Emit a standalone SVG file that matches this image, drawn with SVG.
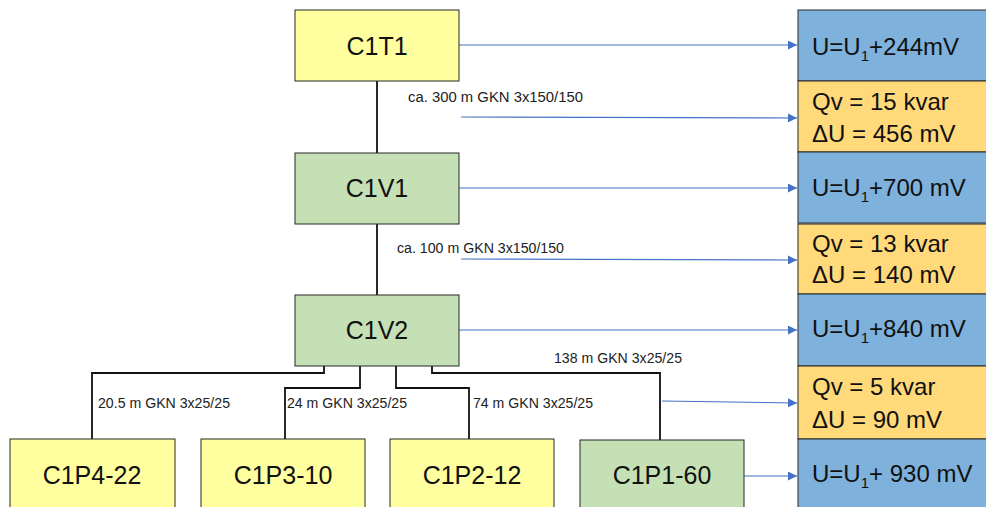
<svg xmlns="http://www.w3.org/2000/svg" width="986" height="507" viewBox="0 0 986 507">
<style>
.node{stroke:#262626;stroke-width:1}
.y{fill:#FFFF9F}
.g{fill:#C5E0B4}
.b{fill:#7EB2DD}
.o{fill:#FFD97A}
.big{font-family:"Liberation Sans",Arial,sans-serif;font-size:25px;fill:#111}
.mid{font-family:"Liberation Sans",Arial,sans-serif;font-size:24px;fill:#111}
.lbl{font-family:"Liberation Sans",Arial,sans-serif;font-size:14px;fill:#222}
.wire{fill:none;stroke:#111;stroke-width:1.8}
.arr{fill:none;stroke:#4472C4;stroke-width:1.2;marker-end:url(#ah)}
.sub{font-size:15px}
</style>
<defs>
<marker id="ah" viewBox="0 0 10 10" refX="10" refY="5" markerWidth="9" markerHeight="9" markerUnits="userSpaceOnUse" orient="auto">
<path d="M0,0 L10,5 L0,10 z" fill="#4472C4"/>
</marker>
</defs>
<rect width="986" height="507" fill="#fff"/>

<g id="connectors">
<path class="wire" d="M377,81 V153"/>
<path class="wire" d="M377,224 V295"/>
<path class="wire" d="M324,366 V373 H92 V439"/>
<path class="wire" d="M360,366 V388 H285 V439"/>
<path class="wire" d="M396,366 V388 H469 V439"/>
<path class="wire" d="M432,366 V373 H660 V440"/>
<path class="arr" d="M459,45 H797"/>
<path class="arr" d="M461,117 L797,118"/>
<path class="arr" d="M459,188 H797"/>
<path class="arr" d="M461,259 L797,260"/>
<path class="arr" d="M459,330 H797"/>
<path class="arr" d="M662,401 L797,403"/>
<path class="arr" d="M744,476 H797"/>
<text class="lbl" x="408" y="102" textLength="175" lengthAdjust="spacingAndGlyphs">ca. 300 m GKN 3x150/150</text>
<text class="lbl" x="397" y="253" textLength="167" lengthAdjust="spacingAndGlyphs">ca. 100 m GKN 3x150/150</text>
<text class="lbl" x="554" y="363" textLength="128" lengthAdjust="spacingAndGlyphs">138 m GKN 3x25/25</text>
<text class="lbl" x="98" y="408" textLength="132" lengthAdjust="spacingAndGlyphs">20.5 m GKN 3x25/25</text>
<text class="lbl" x="287" y="408" textLength="120" lengthAdjust="spacingAndGlyphs">24 m GKN 3x25/25</text>
<text class="lbl" x="473" y="408" textLength="120" lengthAdjust="spacingAndGlyphs">74 m GKN 3x25/25</text>
</g>

<g id="C1T1"><rect class="node y" x="295" y="10" width="164" height="71"/><text class="big" x="377" y="55" text-anchor="middle">C1T1</text></g>
<g id="C1V1"><rect class="node g" x="295" y="153" width="164" height="71"/><text class="big" x="377" y="197" text-anchor="middle">C1V1</text></g>
<g id="C1V2"><rect class="node g" x="295" y="295" width="164" height="71"/><text class="big" x="377" y="339" text-anchor="middle">C1V2</text></g>
<g id="C1P4-22"><rect class="node y" x="10" y="439" width="165" height="75"/><text class="big" x="92" y="484" text-anchor="middle">C1P4-22</text></g>
<g id="C1P3-10"><rect class="node y" x="201" y="439" width="164" height="75"/><text class="big" x="283" y="484" text-anchor="middle">C1P3-10</text></g>
<g id="C1P2-12"><rect class="node y" x="390" y="439" width="164" height="75"/><text class="big" x="472" y="484" text-anchor="middle">C1P2-12</text></g>
<g id="C1P1-60"><rect class="node g" x="580" y="440" width="164" height="75"/><text class="big" x="662" y="484" text-anchor="middle">C1P1-60</text></g>

<g id="R1"><rect class="node b" x="798" y="10" width="200" height="71"/><text class="mid" x="812" y="55">U=U<tspan class="sub" dy="6">1</tspan><tspan dy="-6">+244mV</tspan></text></g>
<g id="R2"><rect class="node o" x="798" y="81" width="200" height="71"/><text class="mid" x="812" y="110">Qv = 15 kvar</text><text class="mid" x="812" y="142">ΔU = 456 mV</text></g>
<g id="R3"><rect class="node b" x="798" y="152" width="200" height="71"/><text class="mid" x="812" y="196">U=U<tspan class="sub" dy="6">1</tspan><tspan dy="-6">+700 mV</tspan></text></g>
<g id="R4"><rect class="node o" x="798" y="224" width="200" height="70"/><text class="mid" x="812" y="252">Qv = 13 kvar</text><text class="mid" x="812" y="283">ΔU = 140 mV</text></g>
<g id="R5"><rect class="node b" x="798" y="294" width="200" height="72"/><text class="mid" x="812" y="337">U=U<tspan class="sub" dy="6">1</tspan><tspan dy="-6">+840 mV</tspan></text></g>
<g id="R6"><rect class="node o" x="798" y="366" width="200" height="73"/><text class="mid" x="812" y="395">Qv = 5 kvar</text><text class="mid" x="812" y="428">ΔU = 90 mV</text></g>
<g id="R7"><rect class="node b" x="798" y="439" width="200" height="75"/><text class="mid" x="812" y="482">U=U<tspan class="sub" dy="6">1</tspan><tspan dy="-6">+ 930 mV</tspan></text></g>
</svg>
